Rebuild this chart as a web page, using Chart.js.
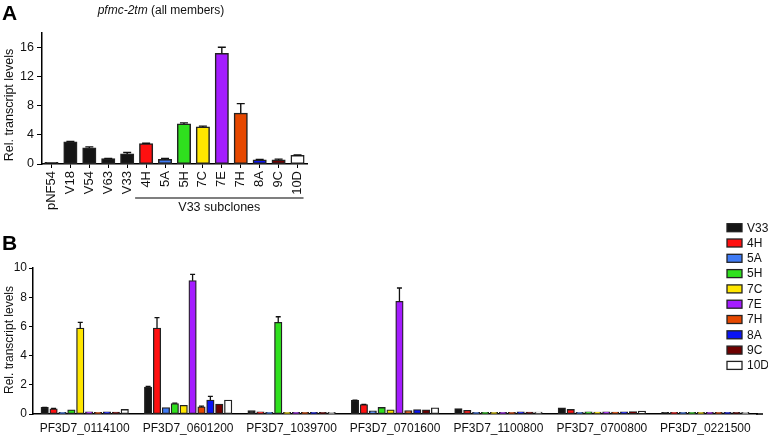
<!DOCTYPE html>
<html>
<head>
<meta charset="utf-8">
<script src="https://cdn.jsdelivr.net/npm/chart.js@4.4.1/dist/chart.umd.min.js"></script>
<style>
  html, body { margin: 0; padding: 0; background: #fff; }
  #wrap { position: relative; width: 768px; height: 436px; overflow: hidden; }
  #chartA { position: absolute; left: 0; top: 0; }
  #chartB { position: absolute; left: 0; top: 215px; }
</style>
</head>
<body>
<div id="wrap">
  <canvas id="chartA" width="320" height="215"></canvas>
  <canvas id="chartB" width="768" height="221"></canvas>
</div>
<script>
// ---- panel A data ----
const linesA  = ['pNF54','V18','V54','V63','V33','4H','5A','5H','7C','7E','7H','8A','9C','10D'];
const valuesA = [0.05, 3.05, 2.2, 0.72, 1.38, 2.8, 0.62, 5.5, 5.1, 15.2, 7.0, 0.58, 0.55, 1.18];
const errorsA = [0, 0.05, 0.15, 0.05, 0.2, 0.05, 0.15, 0.15, 0.1, 0.85, 1.3, 0.05, 0.12, 0.05];

// ---- panel B data ----
const genes  = ['PF3D7_0114100','PF3D7_0601200','PF3D7_1039700','PF3D7_0701600','PF3D7_1100800','PF3D7_0700800','PF3D7_0221500'];
const clones = ['V33','4H','5A','5H','7C','7E','7H','8A','9C','10D'];
const valV33 = [0.44, 1.84, 0.23, 0.92, 0.36, 0.41, 0.07];
const val4H  = [0.35, 5.88, 0.14, 0.63, 0.24, 0.30, 0.05];
const val5A  = [0.08, 0.43, 0.05, 0.20, 0.05, 0.11, 0.04];
const val5H  = [0.27, 0.70, 6.27, 0.44, 0.11, 0.14, 0.05];
const val7C  = [5.88, 0.58, 0.05, 0.27, 0.10, 0.12, 0.05];
const val7E  = [0.13, 9.13, 0.06, 7.71, 0.10, 0.14, 0.05];
const val7H  = [0.10, 0.48, 0.05, 0.23, 0.06, 0.12, 0.05];
const val8A  = [0.13, 0.94, 0.05, 0.29, 0.14, 0.14, 0.05];
const val9C  = [0.12, 0.67, 0.05, 0.28, 0.12, 0.16, 0.05];
const val10D = [0.30, 0.94, 0.07, 0.41, 0.12, 0.18, 0.05];
const errV33 = [0.02, 0.05, 0, 0.03, 0, 0, 0];
const err4H  = [0.03, 0.72, 0, 0.03, 0, 0, 0];
const err5A  = [0, 0, 0, 0, 0, 0, 0];
const err5H  = [0, 0.05, 0.39, 0, 0, 0, 0];
const err7C  = [0.39, 0, 0, 0, 0, 0, 0];
const err7E  = [0, 0.43, 0, 0.92, 0, 0, 0];
const err7H  = [0, 0.06, 0, 0, 0, 0, 0];
const err8A  = [0, 0.27, 0, 0, 0, 0, 0];
const err9C  = [0, 0, 0, 0, 0, 0, 0];
const err10D = [0, 0, 0, 0, 0, 0, 0];

// colours
const cloneColors = ['#151515','#ff1010','#3f7bf5','#2fe01e','#ffe600','#a41cff','#e64800','#0a14f5','#6e0000','#ffffff'];
const colorsA = ['#151515','#151515','#151515','#151515','#151515'].concat(cloneColors.slice(1));
const edge = '#222';
const yTitle = 'Rel. transcript levels';

Chart.defaults.font.family = "'Liberation Sans', Arial, sans-serif";
Chart.defaults.color = '#111';

// error bars (upper only), drawn through the y scale
const errorBars = {
  id: 'errorBars',
  afterDatasetsDraw(chart, args, opts) {
    const ctx = chart.ctx, y = chart.scales.y;
    ctx.save();
    ctx.strokeStyle = '#111';
    ctx.lineWidth = opts.width || 1.3;
    chart.data.datasets.forEach((ds, i) => {
      if (!ds.errors) return;
      chart.getDatasetMeta(i).data.forEach((bar, j) => {
        const e = ds.errors[j];
        if (!e) return;
        const top = y.getPixelForValue(ds.data[j] + e);
        const cap = opts.cap || 4;
        ctx.beginPath();
        ctx.moveTo(bar.x, bar.y); ctx.lineTo(bar.x, top);
        ctx.moveTo(bar.x - cap, top); ctx.lineTo(bar.x + cap, top);
        ctx.stroke();
      });
    });
    ctx.restore();
  }
};

function rotatedText(ctx, text, x, y, size) {
  ctx.save();
  ctx.translate(x, y);
  ctx.rotate(-Math.PI / 2);
  ctx.font = size + 'px ' + Chart.defaults.font.family;
  ctx.textAlign = 'center';
  ctx.textBaseline = 'middle';
  ctx.fillStyle = '#111';
  ctx.fillText(text, 0, 0);
  ctx.restore();
}

const decorA = {
  id: 'decorA',
  afterDraw(chart) {
    const ctx = chart.ctx, x = chart.scales.x;
    const fam = Chart.defaults.font.family;
    ctx.save();
    ctx.fillStyle = '#000';
    ctx.font = 'bold 21px ' + fam;
    ctx.textBaseline = 'alphabetic';
    ctx.fillText('A', 2, 20);
    // title: italic gene name + plain text
    const t1 = 'pfmc-2tm', t2 = ' (all members)';
    ctx.font = 'italic 12px ' + fam;
    const w1 = ctx.measureText(t1).width;
    ctx.font = '12px ' + fam;
    const w2 = ctx.measureText(t2).width;
    const x0 = 161 - (w1 + w2) / 2;
    ctx.fillStyle = '#111';
    ctx.font = 'italic 12px ' + fam;
    ctx.fillText(t1, x0, 14);
    ctx.font = '12px ' + fam;
    ctx.fillText(t2, x0 + w1, 14);
    // subclone bracket line
    const l = x.getPixelForValue(5) - 11, r = x.getPixelForValue(13) + 6;
    ctx.strokeStyle = '#000'; ctx.lineWidth = 1.2;
    ctx.beginPath(); ctx.moveTo(l, 198); ctx.lineTo(r, 198); ctx.stroke();
    ctx.textAlign = 'center';
    ctx.font = '12.5px ' + fam;
    ctx.fillText('V33 subclones', (l + r) / 2, 211);
    ctx.restore();
    rotatedText(ctx, yTitle, 10, 105, 12.5);
  }
};

const decorB = {
  id: 'decorB',
  afterDraw(chart) {
    const ctx = chart.ctx, area = chart.chartArea;
    const fam = Chart.defaults.font.family;
    ctx.save();
    // axis line runs a little past the last group
    ctx.strokeStyle = '#000'; ctx.lineWidth = 1.5;
    ctx.beginPath(); ctx.moveTo(area.right - 1, area.bottom); ctx.lineTo(763, area.bottom); ctx.stroke();
    ctx.fillStyle = '#000';
    ctx.font = 'bold 21px ' + fam;
    ctx.fillText('B', 2, 35);
    // legend
    ctx.font = '12px ' + fam;
    ctx.textBaseline = 'middle';
    chart.data.datasets.forEach((ds, i) => {
      const cy = 12.7 + i * 15.3;
      ctx.fillStyle = ds.backgroundColor;
      ctx.fillRect(727, cy - 4, 15, 8);
      ctx.strokeStyle = edge; ctx.lineWidth = 1.3;
      ctx.strokeRect(727, cy - 4, 15, 8);
      ctx.fillStyle = '#111';
      ctx.fillText(ds.label, 747, cy + 0.5);
    });
    ctx.restore();
    rotatedText(ctx, yTitle, 10, 125, 12);
  }
};

new Chart(document.getElementById('chartA'), {
  type: 'bar',
  data: {
    labels: linesA,
    datasets: [{
      data: valuesA, errors: errorsA,
      backgroundColor: colorsA, borderColor: edge, borderWidth: 1.5, borderSkipped: false,
      barPercentage: 0.7, categoryPercentage: 1, minBarLength: 1.5, inflateAmount: 0.4
    }]
  },
  options: {
    responsive: false, animation: false,
    layout: { padding: { top: 33, right: 13, left: 0, bottom: 0 } },
    plugins: { legend: { display: false }, tooltip: { enabled: false }, errorBars: { cap: 4, width: 1.4 } },
    scales: {
      x: {
        grid: { display: true, drawOnChartArea: false, drawTicks: true, tickLength: 4, offset: false, color: '#000' },
        border: { color: '#000', width: 1.5 },
        ticks: { minRotation: 90, maxRotation: 90, autoSkip: false, padding: 3, font: { size: 13 } },
        afterFit(s) { s.height = 51; }
      },
      y: {
        min: 0, max: 18,
        ticks: { stepSize: 4, padding: 3, font: { size: 12.5 } },
        afterBuildTicks(s) { s.ticks = s.ticks.filter(t => t.value % 4 === 0); },
        grid: { display: true, drawOnChartArea: false, tickLength: 5, color: '#000' },
        border: { color: '#000', width: 1.5 },
        afterFit(s) { s.width = 42; }
      }
    }
  },
  plugins: [errorBars, decorA]
});

const valsB = [valV33, val4H, val5A, val5H, val7C, val7E, val7H, val8A, val9C, val10D];
const errsB = [errV33, err4H, err5A, err5H, err7C, err7E, err7H, err8A, err9C, err10D];

new Chart(document.getElementById('chartB'), {
  type: 'bar',
  data: {
    labels: genes,
    datasets: clones.map((c, i) => ({
      label: c, data: valsB[i], errors: errsB[i],
      backgroundColor: cloneColors[i], borderColor: edge, borderWidth: 1.3, borderSkipped: false,
      barPercentage: 0.8, categoryPercentage: 0.86, minBarLength: 1.5, inflateAmount: 0.5
    }))
  },
  options: {
    responsive: false, animation: false,
    layout: { padding: { top: 53, right: 11, left: 0, bottom: 0 } },
    plugins: { legend: { display: false }, tooltip: { enabled: false }, errorBars: { cap: 2.5, width: 1.3 } },
    scales: {
      x: {
        grid: { display: false, tickLength: 0 },
        border: { color: '#000', width: 1.5 },
        ticks: { padding: 7, maxRotation: 0, autoSkip: false, font: { size: 12 } },
        afterFit(s) { s.height = 22; }
      },
      y: {
        min: 0, max: 10,
        ticks: { stepSize: 2, padding: 2, font: { size: 12 } },
        grid: { display: true, drawOnChartArea: false, tickLength: 4, color: '#000' },
        border: { color: '#000', width: 1.5 },
        afterFit(s) { s.width = 33; }
      }
    }
  },
  plugins: [errorBars, decorB]
});
</script>
</body>
</html>
